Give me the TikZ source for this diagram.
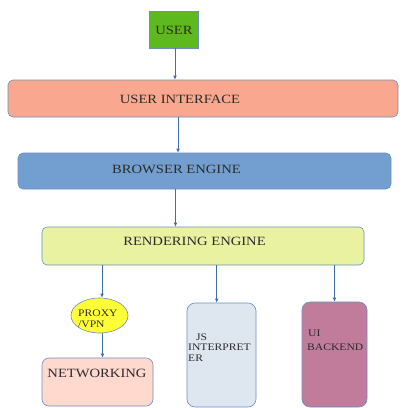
\documentclass[tikz,border=0pt]{standalone}
\usepackage{fontspec}
\setmainfont{Liberation Serif}[FakeStretch=1.16]
\usetikzlibrary{arrows.meta,shapes.geometric}

\definecolor{edge}{HTML}{6D8FC0}
\definecolor{link}{HTML}{3F6FB0}
\definecolor{ink}{HTML}{2B2B2B}
\definecolor{userfill}{HTML}{5EB91E}
\definecolor{uifill}{HTML}{F9A88F}
\definecolor{befill}{HTML}{729FCF}
\definecolor{refill}{HTML}{E8F2A1}
\definecolor{proxyfill}{HTML}{FFFF38}
\definecolor{netfill}{HTML}{FFD8CE}
\definecolor{jsfill}{HTML}{DEE6EF}
\definecolor{uibfill}{HTML}{C07C9A}

\tikzset{
  box/.style={draw=edge, line width=0.6pt, rectangle, inner sep=0pt},
  wide/.style={box, rounded corners=5pt},
  tall/.style={box, rounded corners=8pt},
  lbl/.style={inner sep=0pt, text=ink, font=\fontsize{12.6}{15}\selectfont},
  small/.style={inner sep=0pt, text=ink, anchor=base west},
  arr/.style={draw=link, line width=0.6pt, -{Latex[length=4pt,width=3.5pt]}}
}

\begin{document}
\begin{tikzpicture}[x=1pt,y=-1pt]
\useasboundingbox (0,0) rectangle (400,408);

% boxes
\node[box, fill=userfill, minimum width=49pt, minimum height=37pt] (user) at (173.5,29.5) {};
\node[wide, fill=uifill, minimum width=390pt, minimum height=37pt] (ui) at (203,98.5) {};
\node[wide, fill=befill, minimum width=373pt, minimum height=36pt] (be) at (204.5,171) {};
\node[wide, fill=refill, minimum width=322pt, minimum height=38pt] (re) at (203,246) {};
\node[ellipse, draw=edge, line width=0.6pt, fill=proxyfill, inner sep=0pt,
      minimum width=57pt, minimum height=35pt] (proxy) at (99.5,315.5) {};
\node[box, rounded corners=7pt, fill=netfill, minimum width=111pt, minimum height=48pt] (net) at (97.5,382) {};
\node[tall, fill=jsfill, minimum width=69pt, minimum height=104pt] (js) at (221.5,355) {};
\node[tall, fill=uibfill, minimum width=65pt, minimum height=105pt] (uib) at (334.5,354.5) {};

% labels
\node[lbl] at (174,30) {USER};
\node[lbl] at (180,99) {USER INTERFACE};
\node[lbl] at (176.5,169) {BROWSER ENGINE};
\node[lbl] at (194.5,241.5) {RENDERING ENGINE};
\node[lbl] at (97,373) {NETWORKING};
\node[small] at (78,316.7) {\fontsize{10}{10.6}\selectfont
  \begin{tabular}[t]{@{}l@{}}PROXY\\/VPN\end{tabular}};
\node[small] at (188,340) {\fontsize{10}{10.9}\selectfont
  \begin{tabular}[t]{@{}l@{}}\hspace{8pt}JS\\INTERPRET\\ER\end{tabular}};
\node[small] at (307,336.7) {\fontsize{10}{13.3}\selectfont
  \begin{tabular}[t]{@{}l@{}}\hspace{1pt}UI\\BACKEND\end{tabular}};

% connectors
\coordinate (u1) at ([xshift=1.5pt]user.south);
\draw[arr] (u1) -- (u1 |- ui.north);
\coordinate (i1) at ([xshift=-25pt]ui.south);
\draw[arr] (i1) -- (i1 |- be.north);
\coordinate (b1) at ([xshift=-29pt]be.south);
\draw[arr] (b1) -- (b1 |- re.north);
\coordinate (r1) at ([xshift=-101pt]re.south);
\draw[arr] (r1) -- (r1 |- proxy.north);
\coordinate (p1) at ([xshift=3pt]proxy.south);
\draw[arr] (p1) -- (p1 |- net.north);
\coordinate (r2) at ([xshift=13.7pt]re.south);
\draw[arr] (r2) -- (r2 |- js.north);
\draw[arr] (re.south -| uib.north) -- (uib.north);
\end{tikzpicture}
\end{document}
